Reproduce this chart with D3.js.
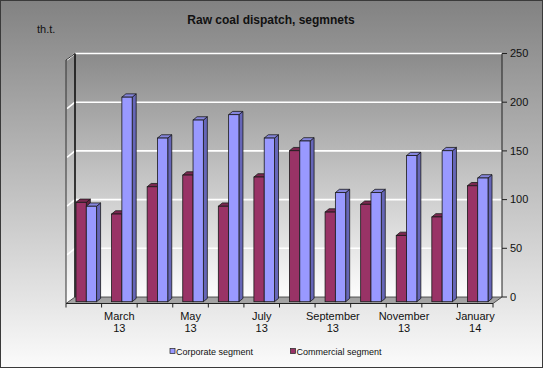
<!DOCTYPE html>
<html><head><meta charset="utf-8">
<script src="https://cdn.jsdelivr.net/npm/d3@7"></script>
<style>body{margin:0;background:#fff;} svg{display:block;font-family:Arial,"Liberation Sans",sans-serif;}</style>
</head><body>
<script>
const months = ["February","March","April","May","June","July","August","September","October","November","December","January"];
const years = ["13","13","13","13","13","13","13","13","13","13","13","14"];
const categories = months.map((m, i) => m + " " + years[i]);
const commercial = [102, 90, 118, 130, 98, 128, 155, 92, 100, 68, 87, 119];
const corporate = [98, 210, 168, 186.5, 192, 168, 165, 112, 112, 150, 155, 127];
const yTicks = [0, 50, 100, 150, 200, 250];
const seriesNames = ["Commercial segment", "Corporate segment"];
const legendOrder = ["Corporate segment", "Commercial segment"];

const W = 543, H = 368;
const colors = {
  "Commercial segment": {front: "#993366", side: "#66223f", top: "#7a2850"},
  "Corporate segment": {front: "#9999ff", side: "#6666b8", top: "#8585dc"}
};

const svg = d3.select("body").append("svg").attr("width", W).attr("height", H);
const defs = svg.append("defs");
const g1 = defs.append("linearGradient").attr("id", "bg").attr("x1", 0).attr("y1", 0).attr("x2", 0).attr("y2", 1);
g1.append("stop").attr("offset", 0).attr("stop-color", "#828282");
g1.append("stop").attr("offset", 1).attr("stop-color", "#fbfbfb");
const g2 = defs.append("linearGradient").attr("id", "wall").attr("x1", 0).attr("y1", 0).attr("x2", 0).attr("y2", 1);
g2.append("stop").attr("offset", 0).attr("stop-color", "#8a8a8a");
g2.append("stop").attr("offset", 1).attr("stop-color", "#fdfdfd");

svg.append("rect").attr("x", 0.5).attr("y", 0.5).attr("width", W - 1).attr("height", H - 1)
  .attr("fill", "url(#bg)").attr("stroke", "#3a3a3a");

// geometry
const fx0 = 66, fx1 = 493, fy = 303.5, ddx = 9, ddy = -6.5;
const y = d3.scaleLinear().domain([0, 250]).range([297, 53.5]);
const x = d3.scaleBand().domain(categories).range([fx0, fx1]);
const groupW = 20.6;
const inner = d3.scaleBand().domain(seriesNames).range([0, groupW]);
const barBase = 301.7, bdx = 4, bdy = -3.3, shift = 2.5;

// back wall
svg.append("rect").attr("x", fx0 + ddx).attr("y", y(250)).attr("width", fx1 - fx0).attr("height", y(0) - y(250))
  .attr("fill", "url(#wall)");
// left wall
svg.append("polygon")
  .attr("points", [[fx0, y(250) - ddy], [fx0 + ddx, y(250)], [fx0 + ddx, y(0)], [fx0, fy]].map(p => p.join(",")).join(" "))
  .attr("fill", "url(#wall)");

// gridlines
yTicks.filter(t => t > 0).forEach(t => {
  svg.append("line").attr("x1", fx0 + ddx).attr("x2", fx1 + ddx).attr("y1", y(t)).attr("y2", y(t))
    .attr("stroke", "#fff").attr("stroke-width", 1.6);
  svg.append("line").attr("x1", fx0 + 1).attr("x2", fx0 + ddx).attr("y1", y(t) - ddy).attr("y2", y(t))
    .attr("stroke", "#fff").attr("stroke-width", 1.6);
});

// wall edges
svg.append("line").attr("x1", fx0 + ddx).attr("x2", fx0 + ddx).attr("y1", y(250)).attr("y2", y(0))
  .attr("stroke", "#111").attr("stroke-width", 1.6);
svg.append("line").attr("x1", fx0).attr("x2", fx0).attr("y1", y(250) - ddy).attr("y2", fy)
  .attr("stroke", "#333").attr("stroke-width", 1);
svg.append("line").attr("x1", fx0).attr("x2", fx0 + ddx).attr("y1", y(250) - ddy).attr("y2", y(250))
  .attr("stroke", "#333").attr("stroke-width", 1);

// floor
svg.append("polygon")
  .attr("points", [[fx0, fy], [fx1, fy], [fx1 + ddx, y(0)], [fx0 + ddx, y(0)]].map(p => p.join(",")).join(" "))
  .attr("fill", "#a3a3a3").attr("stroke", "#333").attr("stroke-width", 0.8);

// right axis
svg.append("line").attr("x1", fx1 + ddx).attr("x2", fx1 + ddx).attr("y1", y(250)).attr("y2", y(0))
  .attr("stroke", "#222").attr("stroke-width", 1);
yTicks.forEach(t => {
  svg.append("line").attr("x1", fx1 + ddx).attr("x2", fx1 + ddx + 5).attr("y1", y(t)).attr("y2", y(t))
    .attr("stroke", "#222").attr("stroke-width", 1);
  svg.append("text").attr("x", fx1 + ddx + 8).attr("y", y(t)).attr("dy", "0.35em")
    .attr("font-size", 11).attr("fill", "#111").text(t);
});

// x axis front edge + ticks
svg.append("line").attr("x1", fx0).attr("x2", fx1).attr("y1", fy).attr("y2", fy).attr("stroke", "#222");
categories.concat([null]).forEach((c, i) => {
  const xx = c === null ? fx1 : x(c);
  svg.append("line").attr("x1", xx).attr("x2", xx).attr("y1", fy).attr("y2", fy + 4).attr("stroke", "#222");
});
categories.forEach((c, i) => {
  if (i % 2 !== 1) return;
  const cx = x(c) + x.bandwidth() / 2;
  const t = svg.append("text").attr("text-anchor", "middle").attr("font-size", 11).attr("fill", "#111");
  t.append("tspan").attr("x", cx).attr("y", 319.5).text(months[i]);
  t.append("tspan").attr("x", cx).attr("y", 331.5).text(years[i]);
});

// bars
const bars = svg.append("g");
categories.forEach((c, i) => {
  const vals = {"Commercial segment": commercial[i], "Corporate segment": corporate[i]};
  seriesNames.forEach(s => {
    const bw = inner.bandwidth();
    const bx = x(c) + (x.bandwidth() - groupW) / 2 + shift + inner(s);
    const h = y(0) - y(vals[s]);
    const top = barBase - h;
    const col = colors[s];
    const st = {stroke: "#1a1a1a", w: 0.8};
    bars.append("polygon")
      .attr("points", [[bx + bw, top], [bx + bw + bdx, top + bdy], [bx + bw + bdx, barBase + bdy], [bx + bw, barBase]].map(p => p.join(",")).join(" "))
      .attr("fill", col.side).attr("stroke", st.stroke).attr("stroke-width", st.w).attr("stroke-linejoin", "round");
    bars.append("polygon")
      .attr("points", [[bx, top], [bx + bdx, top + bdy], [bx + bw + bdx, top + bdy], [bx + bw, top]].map(p => p.join(",")).join(" "))
      .attr("fill", col.top).attr("stroke", st.stroke).attr("stroke-width", st.w).attr("stroke-linejoin", "round");
    bars.append("rect").attr("x", bx).attr("y", top).attr("width", bw).attr("height", h)
      .attr("fill", col.front).attr("stroke", st.stroke).attr("stroke-width", st.w);
  });
});

// title
svg.append("text").attr("x", 271).attr("y", 24).attr("text-anchor", "middle")
  .attr("font-size", 12).attr("font-weight", "bold").attr("fill", "#111").text("Raw coal dispatch, segmnets");
svg.append("text").attr("x", 37).attr("y", 33).attr("font-size", 11).attr("fill", "#111").text("th.t.");

// legend
const legX = [170, 290.5];
legendOrder.forEach((s, i) => {
  svg.append("rect").attr("x", legX[i]).attr("y", 348.5).attr("width", 5).attr("height", 5)
    .attr("fill", colors[s].front).attr("stroke", "#222").attr("stroke-width", 0.7);
  svg.append("text").attr("x", legX[i] + 6).attr("y", 354.5).attr("font-size", 9).attr("fill", "#111").text(s);
});
</script>
</body></html>
